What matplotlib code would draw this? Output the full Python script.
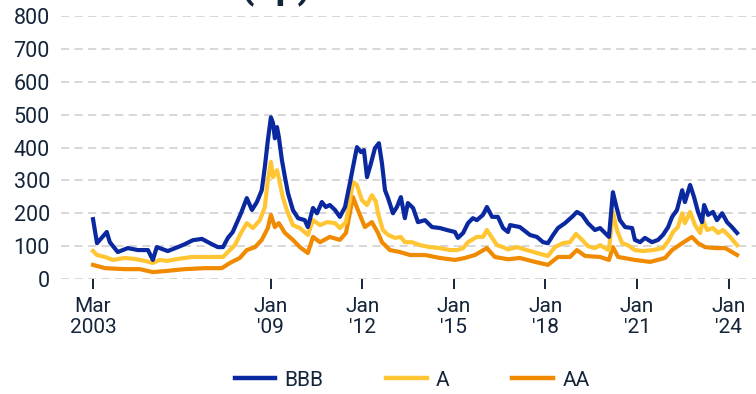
import matplotlib.pyplot as plt
import numpy as np

plt.rcParams['font.family'] = ['Roboto', 'DejaVu Sans']

# spreads in bp, dates as decimal years
bbb_t = [2003.17, 2003.30, 2003.62, 2003.72, 2003.98, 2004.31, 2004.64, 2004.97, 2005.13, 2005.26,
         2005.62, 2005.95, 2006.18, 2006.44, 2006.74, 2007.00, 2007.26, 2007.43, 2007.59, 2007.75,
         2008.02, 2008.21, 2008.38, 2008.54, 2008.70, 2008.80, 2008.90, 2009.00, 2009.07, 2009.13,
         2009.20, 2009.26, 2009.36, 2009.46, 2009.56, 2009.72, 2009.89, 2010.11, 2010.21, 2010.38,
         2010.51, 2010.67, 2010.80, 2010.93, 2011.10, 2011.26, 2011.43, 2011.59, 2011.69, 2011.82,
         2011.95, 2012.05, 2012.15, 2012.28, 2012.41, 2012.54, 2012.64, 2012.74, 2012.84, 2013.00,
         2013.13, 2013.26, 2013.39, 2013.49, 2013.66, 2013.82, 2014.05, 2014.28, 2014.54, 2014.77,
         2015.03, 2015.13, 2015.30, 2015.46, 2015.62, 2015.75, 2015.95, 2016.08, 2016.25, 2016.44,
         2016.61, 2016.77, 2016.84, 2017.16, 2017.49, 2017.72, 2017.92, 2018.08, 2018.25, 2018.41,
         2018.64, 2018.87, 2019.03, 2019.20, 2019.39, 2019.62, 2019.79, 2019.95, 2020.08, 2020.21,
         2020.31, 2020.44, 2020.61, 2020.84, 2020.93, 2021.10, 2021.26, 2021.49, 2021.69, 2021.85,
         2022.02, 2022.15, 2022.31, 2022.48, 2022.57, 2022.74, 2022.87, 2023.00, 2023.13, 2023.20,
         2023.33, 2023.49, 2023.62, 2023.79, 2023.95, 2024.11, 2024.28]
bbb_v = [182, 109, 143, 112, 82, 94, 88, 88, 58, 97,
         85, 97, 106, 118, 122, 109, 97, 97, 125, 143,
         200, 246, 210, 234, 270, 340, 422, 492, 474, 428,
         462, 432, 362, 310, 261, 210, 185, 179, 158, 216,
         200, 234, 219, 225, 210, 189, 219, 292, 340, 401,
         386, 392, 310, 352, 398, 413, 352, 270, 246, 200,
         219, 249, 185, 231, 216, 173, 179, 158, 155, 149,
         143, 125, 140, 170, 185, 179, 195, 219, 189, 189,
         155, 143, 164, 158, 134, 128, 112, 109, 134, 155,
         170, 189, 204, 195, 170, 149, 155, 140, 128, 264,
         225, 179, 158, 155, 119, 112, 125, 112, 119, 134,
         158, 189, 210, 270, 234, 286, 249, 204, 173, 225,
         195, 204, 179, 200, 173, 158, 140]

a_t = [2003.17, 2003.30, 2003.56, 2003.82, 2004.21, 2004.54, 2004.87, 2005.13, 2005.36, 2005.59,
       2005.95, 2006.41, 2006.74, 2007.07, 2007.43, 2007.59, 2007.82, 2008.02, 2008.21, 2008.41,
       2008.64, 2008.80, 2008.90, 2009.00, 2009.07, 2009.20, 2009.26, 2009.39, 2009.52, 2009.72,
       2009.95, 2010.21, 2010.38, 2010.61, 2010.84, 2011.10, 2011.26, 2011.46, 2011.59, 2011.69,
       2011.82, 2011.98, 2012.15, 2012.31, 2012.44, 2012.51, 2012.67, 2012.84, 2013.07, 2013.26,
       2013.39, 2013.62, 2013.89, 2014.21, 2014.54, 2014.87, 2015.10, 2015.30, 2015.46, 2015.75,
       2015.95, 2016.08, 2016.25, 2016.41, 2016.61, 2016.77, 2017.07, 2017.39, 2017.72, 2018.08,
       2018.31, 2018.57, 2018.80, 2019.00, 2019.20, 2019.39, 2019.62, 2019.79, 2019.95, 2020.08,
       2020.21, 2020.34, 2020.51, 2020.70, 2020.93, 2021.20, 2021.52, 2021.85, 2022.05, 2022.18,
       2022.34, 2022.48, 2022.57, 2022.74, 2022.90, 2023.07, 2023.16, 2023.30, 2023.49, 2023.66,
       2023.82, 2024.05, 2024.28]
a_v = [85, 73, 67, 58, 64, 61, 55, 49, 58, 55,
       61, 67, 67, 67, 67, 82, 103, 140, 170, 155,
       179, 219, 301, 356, 310, 331, 307, 249, 210, 164,
       155, 134, 179, 164, 173, 170, 155, 173, 240, 295,
       286, 240, 225, 255, 235, 200, 149, 134, 125, 128,
       112, 112, 103, 97, 94, 88, 88, 94, 112, 128,
       128, 149, 125, 103, 97, 90, 97, 88, 79, 70,
       97, 109, 112, 137, 119, 100, 94, 103, 94, 88,
       204, 149, 109, 103, 88, 85, 88, 94, 119, 143,
       158, 200, 170, 204, 164, 140, 179, 149, 155, 140,
       149, 128, 103]

aa_t = [2003.17, 2003.56, 2004.21, 2004.70, 2005.13, 2005.52, 2006.18, 2006.84, 2007.39, 2007.66,
        2007.98, 2008.21, 2008.48, 2008.70, 2008.90, 2009.00, 2009.13, 2009.26, 2009.46, 2009.72,
        2009.95, 2010.21, 2010.38, 2010.61, 2010.93, 2011.26, 2011.46, 2011.69, 2011.85, 2012.08,
        2012.31, 2012.51, 2012.64, 2012.90, 2013.23, 2013.56, 2014.05, 2014.54, 2015.03, 2015.36,
        2015.69, 2016.08, 2016.34, 2016.77, 2017.16, 2017.66, 2018.08, 2018.41, 2018.80, 2019.03,
        2019.30, 2019.79, 2020.08, 2020.21, 2020.38, 2020.93, 2021.43, 2021.92, 2022.15, 2022.48,
        2022.80, 2023.00, 2023.23, 2023.56, 2023.89, 2024.28]
aa_v = [43, 33, 30, 30, 21, 24, 30, 33, 33, 49,
        64, 88, 97, 119, 155, 195, 158, 170, 140, 119,
        97, 79, 128, 112, 128, 119, 140, 249, 210, 158,
        173, 140, 112, 88, 82, 73, 73, 64, 58, 64,
        73, 94, 67, 60, 64, 52, 43, 67, 67, 88,
        70, 67, 58, 97, 67, 58, 52, 64, 88, 109,
        128, 109, 97, 94, 94, 73]

tick_pos = [2003.17, 2009, 2012, 2015, 2018, 2021, 2024]
tick_lab = ['Mar\n2003', "Jan\n'09", "Jan\n'12", "Jan\n'15", "Jan\n'18", "Jan\n'21", "Jan\n'24"]

ink = '#14253a'

fig = plt.figure(figsize=(7.56, 3.94), dpi=100)
ax = fig.add_axes([61 / 756, 1 - 279 / 394, 1 - 61 / 756, 263 / 394])

ax.plot(aa_t, aa_v, color='#f08a00', lw=3.0, label='AA', solid_joinstyle='round')
ax.plot(a_t, a_v, color='#ffc532', lw=3.0, label='A', solid_joinstyle='round')
ax.plot(bbb_t, bbb_v, color='#0a289f', lw=3.0, label='BBB', solid_joinstyle='round')

ax.set_xlim(2002.12, 2024.9)
ax.set_ylim(0, 800)
ax.set_yticks(np.arange(0, 801, 100))
ax.yaxis.grid(True, color='#d4d4d4', lw=1.3, dashes=(4.5, 3))
ax.set_axisbelow(True)
for s in ax.spines.values():
    s.set_visible(False)

ax.set_xticks(tick_pos)
ax.set_xticklabels(tick_lab, linespacing=1.15)
ax.tick_params(axis='x', colors=ink, length=7, width=1.4, pad=6, labelsize=15)
ax.tick_params(axis='y', length=0, pad=8, labelcolor=ink, labelsize=15.5)

h, l = ax.get_legend_handles_labels()
order = [2, 1, 0]
leg = fig.legend([h[i] for i in order], [l[i] for i in order], loc='center',
                 bbox_to_anchor=(0.545, 0.035), ncol=3, frameon=False, fontsize=15,
                 handlelength=1.95, handletextpad=0.45, columnspacing=3.0)
for line in leg.get_lines():
    line.set_linewidth(3.2)
for t in leg.get_texts():
    t.set_color(ink)

# heading sits mostly above the top edge; only its lower part shows
fig.text(276 / 756, 1.005, '(bp)', ha='center', va='baseline', fontsize=28,
         fontweight='bold', color=ink)

fig.savefig('out.png', dpi=100)
